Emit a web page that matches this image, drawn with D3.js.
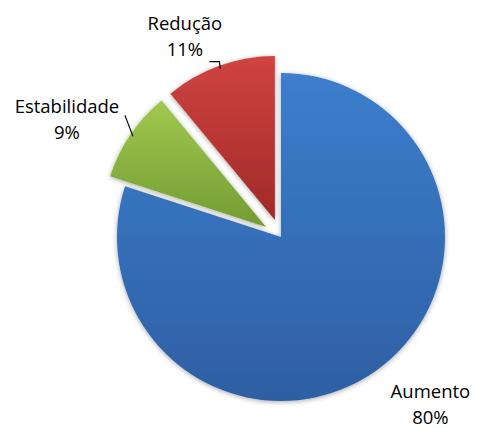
<!DOCTYPE html>
<html>
<head>
<meta charset="utf-8">
<script src="https://cdn.jsdelivr.net/npm/d3@7"></script>
<style>
  body { margin: 0; background: #fff; }
  svg { display: block; }
  .label { font-family: "Open Sans", "Liberation Sans", sans-serif; font-size: 18.5px; fill: #000; }
</style>
</head>
<body>
<svg id="chart" width="477" height="428"></svg>
<script>
const categories = ["Aumento", "Estabilidade", "Redução"]
const values = [80, 9, 11]
const pctLabels = ["80%", "9%", "11%"]
const colorsTop = ["#3c7ecd", "#9fc94e", "#d04341"]
const colorsBottom = ["#2e5fa3", "#739c33", "#a02a28"]
const explode = [0, 18, 18]

const W = 477, H = 428
const cx = 281, cy = 237
const radius = 164

const svg = d3.select("#chart")
const defs = svg.append("defs")

const shadow = defs.append("filter").attr("id", "shadow")
  .attr("x", "-20%").attr("y", "-20%").attr("width", "140%").attr("height", "140%")
shadow.append("feDropShadow")
  .attr("dx", 0).attr("dy", 1).attr("stdDeviation", 2.5)
  .attr("flood-color", "#000").attr("flood-opacity", 0.35)

categories.forEach((c, i) => {
  const g = defs.append("linearGradient").attr("id", "grad-" + i)
    .attr("x1", "0%").attr("y1", "0%").attr("x2", "0%").attr("y2", "100%")
  g.append("stop").attr("offset", "0%").attr("stop-color", colorsTop[i])
  g.append("stop").attr("offset", "100%").attr("stop-color", colorsBottom[i])
})

const pie = d3.pie().sort(null).value(d => d.value)
const arcs = pie(categories.map((c, i) => ({ name: c, value: values[i], pct: pctLabels[i], idx: i })))

const arc = d3.arc().innerRadius(0).outerRadius(radius)

function offset(d, dist) {
  const a = (d.startAngle + d.endAngle) / 2
  return [Math.sin(a) * dist, -Math.cos(a) * dist]
}

const root = svg.append("g").attr("transform", "translate(" + cx + "," + cy + ")")

root.selectAll("path.slice")
  .data(arcs)
  .enter().append("path")
    .attr("class", "slice")
    .attr("transform", d => "translate(" + offset(d, explode[d.data.idx]) + ")")
    .attr("d", arc)
    .style("fill", d => "url(#grad-" + d.data.idx + ")")
    .attr("filter", "url(#shadow)")

// labels: placed along each slice's mid-angle, outside the pie
const labelPos = {
  "Aumento": { r: 223, da: -0.106 },
  "Estabilidade": { r: 245, da: -0.089 },
  "Redução": { r: 224, da: -0.098 }
}

const labels = root.selectAll("g.lbl")
  .data(arcs)
  .enter().append("g")
    .attr("class", "lbl")
    .attr("transform", d => {
      const p = labelPos[d.data.name]
      const a = (d.startAngle + d.endAngle) / 2 + p.da
      return "translate(" + (Math.sin(a) * p.r) + "," + (-Math.cos(a) * p.r) + ")"
    })

labels.append("text").attr("class", "label")
  .attr("text-anchor", "middle").attr("y", -5)
  .text(d => d.data.name)
labels.append("text").attr("class", "label")
  .attr("text-anchor", "middle").attr("y", 21)
  .text(d => d.data.pct)

// leader lines for the small slices
const leaders = {
  "Estabilidade": d => {
    const [ox, oy] = offset(d, explode[d.data.idx])
    const a = (d.startAngle + d.endAngle) / 2
    const ex = ox + Math.sin(a) * (radius - 3), ey = oy - Math.cos(a) * (radius - 3)
    return [[ex - 8, ey - 21], [ex, ey]]
  },
  "Redução": d => {
    const [ox, oy] = offset(d, explode[d.data.idx])
    const a = (d.startAngle + d.endAngle) / 2
    const ex = ox + Math.sin(a) * (radius - 3), ey = oy - Math.cos(a) * (radius - 3)
    return [[ex - 11, ey - 7], [ex - 1, ey - 7], [ex, ey]]
  }
}

root.selectAll("path.leader")
  .data(arcs.filter(d => leaders[d.data.name]))
  .enter().append("path")
    .attr("class", "leader")
    .attr("d", d => d3.line()(leaders[d.data.name](d)))
    .attr("fill", "none")
    .attr("stroke", "#000")
    .attr("stroke-width", 1.2)
</script>
</body>
</html>
